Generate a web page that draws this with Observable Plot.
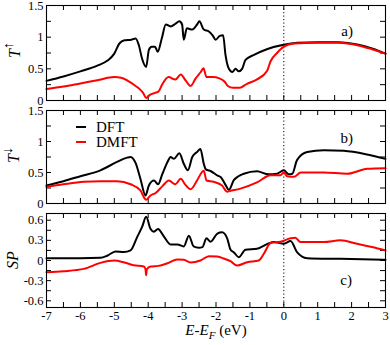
<!DOCTYPE html>
<html><head><meta charset="utf-8">
<script src="https://cdn.jsdelivr.net/npm/d3@7"></script>
<script src="https://cdn.jsdelivr.net/npm/@observablehq/plot@0.6"></script>
<style>
body{margin:0;background:#fff;}
#chart{width:390px;height:345px;position:relative;}
#chart svg{display:block;overflow:visible;}
#chart svg, #chart svg text{font-family:"Liberation Serif","DejaVu Serif","Noto Serif",serif !important;}
</style></head><body><div id="chart"></div>
<script>
// ---- data: panel a) T up ----
const upDftE=[-7,-6.5,-6,-5.5,-5.2,-5.0,-4.85,-4.7,-4.5,-4.37,-4.28,-4.18,-4.06,-3.98,-3.9,-3.8,-3.72,-3.6,-3.48,-3.34,-3.2,-3.08,-3.0,-2.95,-2.86,-2.7,-2.56,-2.49,-2.36,-2.21,-2.1,-2.01,-1.89,-1.79,-1.72,-1.62,-1.52,-1.42,-1.33,-1.23,-1.13,-0.88,-0.5,0,0.4,1,1.6,2.2,2.6,3];
const upDft=[0.31,0.38,0.46,0.55,0.63,0.74,0.9,0.95,0.96,0.98,0.88,0.66,0.53,0.8,0.85,0.85,0.77,0.98,1.2,1.17,1.21,1.25,1.2,0.96,1.14,1.12,1.2,1.25,1.12,1.09,1.03,0.96,1.02,1.03,0.72,0.5,0.45,0.5,0.46,0.5,0.64,0.72,0.81,0.88,0.91,0.92,0.92,0.88,0.82,0.74];
const upDmftE=[-7,-6.5,-6,-5.5,-5.0,-4.8,-4.6,-4.4,-4.25,-4.15,-4.06,-3.95,-3.8,-3.7,-3.58,-3.4,-3.2,-3.04,-2.9,-2.75,-2.6,-2.45,-2.37,-2.28,-2.1,-1.9,-1.75,-1.65,-1.5,-1.3,-1.1,-0.8,-0.49,-0.39,-0.2,0,0.3,1,1.6,2.2,2.6,3];
const upDmft=[0.18,0.22,0.27,0.32,0.37,0.36,0.31,0.24,0.18,0.12,0.04,0.09,0.12,0.14,0.26,0.37,0.33,0.41,0.32,0.23,0.35,0.45,0.51,0.37,0.37,0.35,0.3,0.23,0.2,0.2,0.26,0.33,0.47,0.62,0.75,0.85,0.9,0.91,0.91,0.87,0.81,0.74];
// ---- data: panel b) T down ----
const dnDftE=[-7,-6.5,-6,-5.41,-4.92,-4.62,-4.52,-4.37,-4.23,-4.08,-3.98,-3.83,-3.71,-3.58,-3.43,-3.34,-3.24,-3.08,-2.95,-2.83,-2.7,-2.56,-2.46,-2.36,-2.3,-2.15,-1.95,-1.85,-1.72,-1.62,-1.47,-1.18,-0.79,-0.45,-0.2,0,0.15,0.25,0.39,0.69,1.18,1.77,2.46,3];
const dnDft=[0.29,0.36,0.44,0.535,0.67,0.74,0.75,0.65,0.40,0.13,0.29,0.37,0.31,0.48,0.67,0.75,0.72,0.81,0.64,0.535,0.75,0.83,0.88,0.64,0.55,0.52,0.45,0.42,0.3,0.22,0.38,0.48,0.52,0.47,0.48,0.535,0.47,0.48,0.70,0.83,0.86,0.85,0.79,0.72];
const dnDmftE=[-7,-6.5,-5.9,-5.41,-4.92,-4.52,-4.23,-4.06,-3.93,-3.78,-3.58,-3.39,-3.2,-3.04,-2.9,-2.75,-2.56,-2.41,-2.36,-2.28,-2.07,-1.82,-1.67,-1.6,-1.28,-0.79,-0.39,-0.1,0,0.1,0.3,0.5,1.18,1.87,2.46,3];
const dnDmft=[0.27,0.31,0.35,0.36,0.36,0.31,0.21,0.06,0.13,0.17,0.28,0.37,0.31,0.40,0.30,0.23,0.37,0.51,0.53,0.37,0.35,0.29,0.19,0.2,0.24,0.34,0.455,0.455,0.5,0.44,0.43,0.5,0.5,0.48,0.56,0.57];
// ---- data: panel c) SP ----
const spDftE=[-7,-6,-5.41,-5.21,-4.96,-4.72,-4.52,-4.32,-4.18,-4.06,-3.93,-3.83,-3.71,-3.54,-3.34,-3.14,-2.95,-2.8,-2.66,-2.51,-2.4,-2.28,-2.16,-1.96,-1.82,-1.67,-1.57,-1.47,-1.33,-1.13,-0.79,-0.3,0,0.2,0.39,0.69,1.67,3];
const spDft=[0.035,0.035,0.04,0.07,0.135,0.125,0.15,0.355,0.5,0.65,0.47,0.43,0.47,0.36,0.24,0.24,0.21,0.37,0.21,0.19,0.2,0.33,0.28,0.4,0.42,0.33,0.16,0.12,0.05,0.16,0.175,0.275,0.25,0.29,0.125,0.035,0.025,0.01];
const spDmftE=[-7,-6.5,-5.9,-5.41,-5.0,-4.7,-4.43,-4.13,-4.08,-4.06,-4.04,-3.93,-3.7,-3.43,-3.14,-2.95,-2.75,-2.46,-2.21,-1.96,-1.77,-1.57,-1.38,-1.08,-0.74,-0.59,-0.39,-0.1,0.2,0.34,0.49,1.18,1.67,2.16,2.6,3];
const spDmft=[-0.175,-0.16,-0.125,-0.035,0.0,-0.03,-0.07,-0.09,-0.13,-0.22,-0.13,-0.09,-0.08,-0.04,0.015,0.01,-0.03,0.0,0.065,0.06,0.03,-0.01,-0.075,-0.025,0.0,0.1,0.26,0.28,0.33,0.34,0.275,0.275,0.3,0.25,0.2,0.15];
// ---- ticks / labels ----
const xDomain=[-7,3];
const xMajor=[-7,-6,-5,-4,-3,-2,-1,0,1,2,3];
const xMinor=d3.range(-7,3.001,0.5);
const tDomain=[0,1.5], tLabels=[0,0.5,1,1.5], tMinor=[0.25,0.5,0.75,1,1.25];
const spDomain=[-0.7,0.7], spLabels=[-0.6,-0.3,0,0.3,0.6], spMinor=[-0.6,-0.45,-0.3,-0.15,0,0.15,0.3,0.45,0.6];
const seriesNames=["DFT","DMFT"];
const seriesColors=["#000000","#ff0000"];
const panelTags=["a)","b)","c)"];

const FONT='"Liberation Serif", "DejaVu Serif", "Noto Serif", serif';
const W=390, ML=46, MR=5;

function rows(E,V){return E.map((e,i)=>({e,v:V[i]}));}

function panel({height,mt,mb,yDomain,yLabels,yMinor,dft,dmft,bottom}){
  const fh=height-mt-mb, fw=W-ML-MR;
  const marks=[
    Plot.ruleX([0],{stroke:"black",strokeWidth:1,strokeDasharray:"1.2,2.3"}),
    Plot.tickX(xMinor,{x:d=>d,insetTop:fh-5,stroke:"black"}),
    Plot.tickX(xMinor,{x:d=>d,insetBottom:fh-5,stroke:"black"}),
    Plot.tickY(yMinor,{y:d=>d,insetRight:fw-5,stroke:"black"}),
    Plot.tickY(yMinor,{y:d=>d,insetLeft:fw-5,stroke:"black"}),
    Plot.line(dft,{x:"e",y:"v",stroke:seriesColors[0],strokeWidth:2,curve:"monotone-x"}),
    Plot.line(dmft,{x:"e",y:"v",stroke:seriesColors[1],strokeWidth:2,curve:"monotone-x"}),
    Plot.frame({stroke:"black",strokeWidth:1.1}),
    Plot.axisY({ticks:yLabels,tickSize:0,tickPadding:3,tickFormat:d=>String(d),label:null,fontSize:12.5})
  ];
  if(bottom) marks.push(Plot.axisX({ticks:xMajor,tickSize:0,tickPadding:4,tickFormat:d=>String(d),label:null,fontSize:12.5}));
  return Plot.plot({
    width:W,height,marginTop:mt,marginBottom:mb,marginLeft:ML,marginRight:MR,
    style:{fontFamily:FONT,fontSize:"12.5px",color:"black",background:"white"},
    x:{domain:xDomain,axis:null},
    y:{domain:yDomain,axis:null},
    marks
  });
}

const chart=d3.select("#chart");
const p1=panel({height:105,mt:5,mb:5,yDomain:tDomain,yLabels:tLabels,yMinor:tMinor,dft:rows(upDftE,upDft),dmft:rows(upDmftE,upDmft)});
const p2=panel({height:103,mt:5,mb:5,yDomain:tDomain,yLabels:tLabels,yMinor:tMinor,dft:rows(dnDftE,dnDft),dmft:rows(dnDmftE,dnDmft)});
const p3=panel({height:137,mt:5,mb:38,yDomain:spDomain,yLabels:spLabels,yMinor:spMinor,dft:rows(spDftE,spDft),dmft:rows(spDmftE,spDmft),bottom:true});
[p1,p2,p3].forEach(p=>chart.node().appendChild(p));

function yLabel(svg,x,y,main,sup){
  const t=d3.select(svg).append("text").attr("transform",`translate(${x},${y}) rotate(-90)`)
    .attr("text-anchor","middle").attr("font-family",FONT).attr("font-size",16).attr("fill","black");
  t.append("tspan").attr("font-style","italic").text(main);
  if(sup) t.append("tspan").attr("dy",-7).attr("font-size",14).text(sup);
}
yLabel(p1,20,50,"T","↑");
yLabel(p2,19,50,"T","↓");
yLabel(p3,18,52,"SP",null);

function tag(svg,x,y,s){
  d3.select(svg).append("text").attr("x",x).attr("y",y).attr("text-anchor","end")
    .attr("font-family",FONT).attr("font-size",15).attr("fill","black").text(s);
}
tag(p1,353,36,panelTags[0]);
tag(p2,353,38,panelTags[1]);
tag(p3,352,77,panelTags[2]);

// legend in panel b
const lg=d3.select(p2);
seriesNames.forEach((n,i)=>{
  const y=22+i*15;
  lg.append("line").attr("x1",76).attr("x2",86).attr("y1",y).attr("y2",y).attr("stroke",seriesColors[i]).attr("stroke-width",2);
  lg.append("text").attr("x",96).attr("y",y+5).attr("text-anchor","start").attr("font-family",FONT).attr("font-size",15).attr("fill","black").text(n);
});

// x axis title
const xt=d3.select(p3).append("text").attr("x",216).attr("y",127).attr("text-anchor","middle")
  .attr("font-family",FONT).attr("font-size",15).attr("fill","black");
xt.append("tspan").attr("font-style","italic").text("E");
xt.append("tspan").text("-");
xt.append("tspan").attr("font-style","italic").text("E");
xt.append("tspan").attr("font-style","italic").attr("font-size",11).attr("dy",4).text("F");
xt.append("tspan").attr("dy",-4).text(" (eV)");
</script></body></html>
